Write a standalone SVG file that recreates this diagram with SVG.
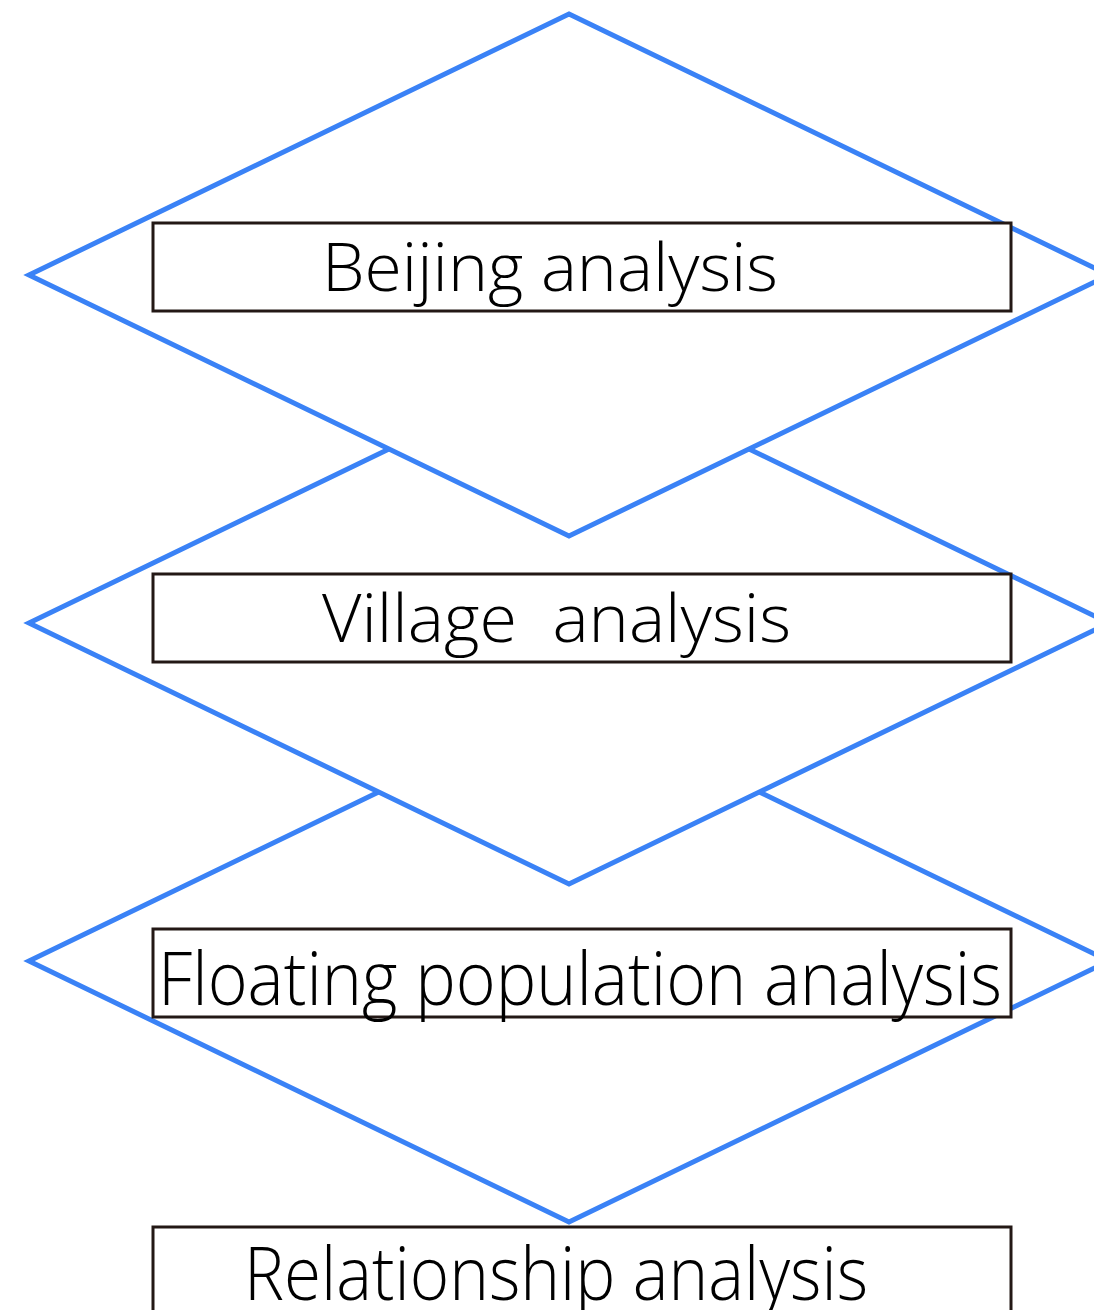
<svg xmlns="http://www.w3.org/2000/svg" width="1094" height="1310" viewBox="0 0 1094 1310">
<style>
.dia{fill:#fff;stroke:#3a82f6;stroke-width:5}
.box{fill:#fff;stroke:#231815;stroke-width:3}
.lbl{font-family:"Open Sans","Noto Sans",sans-serif;font-weight:300;fill:#000}
</style>
<rect width="1094" height="1310" fill="#fff"/>
<g id="diamonds">
<polygon id="diamond3" class="dia" points="569,700 1109,961 569,1222 29,961"/>
<polygon id="diamond2" class="dia" points="569,362 1109,623 569,884 29,623"/>
<polygon id="diamond1" class="dia" points="569,14 1109,275 569,536 29,275"/>
</g>
<g id="connectors"></g>
<g id="node-beijing">
<rect class="box" x="153" y="223" width="858" height="88"/>
<text class="lbl" x="322" y="291" font-size="67" textLength="456" lengthAdjust="spacingAndGlyphs">Beijing analysis</text>
</g>
<g id="node-village">
<rect class="box" x="153" y="574" width="858" height="88"/>
<text class="lbl" x="322" y="642" font-size="67" textLength="469" lengthAdjust="spacingAndGlyphs" xml:space="preserve">Village  analysis</text>
</g>
<g id="node-floating">
<rect class="box" x="153" y="929" width="858" height="88"/>
<text class="lbl" x="158" y="1005" font-size="73" textLength="844" lengthAdjust="spacingAndGlyphs">Floating population analysis</text>
</g>
<g id="node-relationship">
<rect class="box" x="153" y="1227" width="858" height="100"/>
<text class="lbl" x="244" y="1300" font-size="74" textLength="624" lengthAdjust="spacingAndGlyphs">Relationship analysis</text>
</g>
</svg>
